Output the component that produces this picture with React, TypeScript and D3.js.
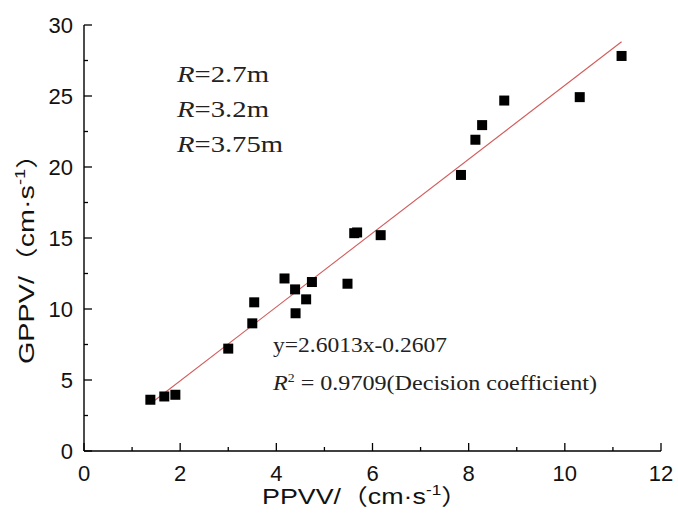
import React from "react";
import * as d3 from "d3";

const ppvv = [1.38, 1.67, 1.9, 3.0, 3.5, 3.54, 4.17, 4.39, 4.4, 4.62, 4.74, 5.48, 5.62, 5.68, 6.17, 7.84, 8.14, 8.28, 8.74, 10.31, 11.18];
const gppv = [3.61, 3.84, 3.96, 7.21, 8.99, 10.47, 12.15, 11.38, 9.7, 10.68, 11.9, 11.78, 15.34, 15.39, 15.2, 19.44, 21.92, 22.95, 24.68, 24.92, 27.82];
const xTicks = [0, 2, 4, 6, 8, 10, 12];
const xMinor = [1, 3, 5, 7, 9, 11];
const yTicks = [0, 5, 10, 15, 20, 25, 30];
const yMinor = [2.5, 7.5, 12.5, 17.5, 22.5, 27.5];
const fitSlope = 2.6013;
const fitIntercept = -0.2607;
const fitRange = [1.38, 11.18];
const radiusLabels = ["2.7m", "3.2m", "3.75m"];

const W = 678;
const H = 515;

export default function App() {
  const x = d3.scaleLinear().domain([0, 12]).range([84, 661]);
  const y = d3.scaleLinear().domain([0, 30]).range([451, 25]);
  const sans = "Liberation Sans, Arial, sans-serif";
  const serif = "Liberation Serif, Times New Roman, serif";
  const cjk = "Noto Sans CJK SC";
  const line = d3
    .line<number>()
    .x((d) => x(d))
    .y((d) => y(fitSlope * d + fitIntercept));
  const sq = 10;
  return (
    <svg width={W} height={H} style={{ position: "absolute", left: 0, top: 0, background: "#fff" }}>
      <rect width={W} height={H} fill="#fff" />
      {/* axes */}
      <line x1={x(0)} x2={x(12)} y1={y(0)} y2={y(0)} stroke="#000" strokeWidth={1.4} />
      <line x1={x(0)} x2={x(0)} y1={y(0)} y2={y(30)} stroke="#000" strokeWidth={1.4} />
      {xTicks.map((t) => (
        <g key={"xt" + t}>
          <line x1={x(t)} x2={x(t)} y1={y(0)} y2={y(0) - 8} stroke="#000" strokeWidth={1.3} />
          <text x={x(t)} y={481} textAnchor="middle" fontFamily={sans} fontSize={22} fill="#111">
            {t}
          </text>
        </g>
      ))}
      {xMinor.map((t) => (
        <line key={"xm" + t} x1={x(t)} x2={x(t)} y1={y(0)} y2={y(0) - 4} stroke="#000" strokeWidth={1.3} />
      ))}
      {yTicks.map((t) => (
        <g key={"yt" + t}>
          <line x1={x(0)} x2={x(0) + 8} y1={y(t)} y2={y(t)} stroke="#000" strokeWidth={1.3} />
          <text x={73} y={y(t)} dy="0.36em" textAnchor="end" fontFamily={sans} fontSize={22} fill="#111">
            {t}
          </text>
        </g>
      ))}
      {yMinor.map((t) => (
        <line key={"ym" + t} x1={x(0)} x2={x(0) + 4} y1={y(t)} y2={y(t)} stroke="#000" strokeWidth={1.3} />
      ))}
      {/* fit line */}
      <path d={line(fitRange) || ""} fill="none" stroke="#d25c5c" strokeWidth={1.1} />
      {/* points */}
      {ppvv.map((v, i) => (
        <rect key={"p" + i} x={x(v) - sq / 2} y={y(gppv[i]) - sq / 2} width={sq} height={sq} fill="#000" />
      ))}
      {/* radius labels */}
      {radiusLabels.map((r, i) => (
        <text
          key={"r" + i}
          x={177}
          y={82 + i * 35}
          fontFamily={serif}
          fontSize={24}
          fill="#222"
          textLength={i === 2 ? 106 : 92}
          lengthAdjust="spacingAndGlyphs"
        >
          <tspan fontStyle="italic">R</tspan>
          <tspan>={r}</tspan>
        </text>
      ))}
      {/* equation */}
      <text x={273} y={352} fontFamily={serif} fontSize={21} fill="#222" textLength={174} lengthAdjust="spacingAndGlyphs">
        y=2.6013x-0.2607
      </text>
      <text x={273} y={390} fontFamily={serif} fontSize={21} fill="#222" textLength={324} lengthAdjust="spacingAndGlyphs">
        <tspan fontStyle="italic">R</tspan>
        <tspan dy={-8} fontSize={12}>2</tspan>
        <tspan dy={8}> = 0.9709(Decision coefficient)</tspan>
      </text>
      {/* x title */}
      <text x={262} y={504} fontFamily={sans} fontSize={22} fill="#111" textLength={206} lengthAdjust="spacingAndGlyphs">
        <tspan>PPVV/</tspan>
        <tspan fontFamily={cjk}>（</tspan>
        <tspan>cm·s</tspan>
        <tspan dy={-9} fontSize={14}>-1</tspan>
        <tspan dy={9} fontFamily={cjk}>）</tspan>
      </text>
      {/* y title */}
      <g transform="translate(34,364) rotate(-90)">
        <text x={0} y={0} fontFamily={sans} fontSize={22} fill="#111" textLength={224} lengthAdjust="spacingAndGlyphs">
          <tspan>GPPV/</tspan>
          <tspan fontFamily={cjk}>（</tspan>
          <tspan>cm·s</tspan>
          <tspan dy={-9} fontSize={14}>-1</tspan>
          <tspan dy={9} fontFamily={cjk}>）</tspan>
        </text>
      </g>
    </svg>
  );
}
